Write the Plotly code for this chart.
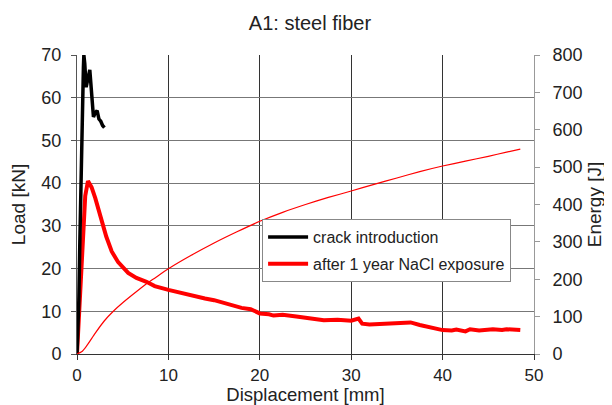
import plotly.graph_objects as go

# crack introduction (black)
crack_x = [0.0, 0.1, 0.2, 0.3, 0.4, 0.5, 0.6, 0.7, 0.75, 0.85, 1.0, 1.1, 1.25, 1.4, 1.5, 1.6, 1.7, 1.8, 2.0, 2.2, 2.4, 2.6, 2.8, 3.0]
crack_y = [0.0, 5.0, 12.5, 25.0, 38.0, 50.0, 60.0, 67.0, 70.0, 68.0, 62.5, 64.0, 65.0, 66.5, 64.0, 60.0, 57.0, 55.5, 56.5, 57.0, 55.0, 54.5, 53.5, 53.0]

# after 1 year NaCl exposure (red, load)
nacl_x = [0.0, 0.3, 0.6, 0.9, 1.2, 1.6, 2.0, 2.7, 3.2, 3.8, 4.5, 5.6, 6.5, 7.6, 8.5, 10.0, 11.0, 11.5, 12.5, 13.0, 14.0, 15.0, 16.0, 16.5, 17.5, 18.0, 19.0, 20.0, 21.0, 21.5, 22.5, 23.0, 24.0, 25.0, 26.0, 27.0, 28.5, 30.0, 30.8, 31.2, 32.0, 33.0, 34.0, 35.5, 36.5, 37.5, 38.5, 40.0, 41.0, 41.5, 42.5, 43.0, 44.0, 45.5, 46.5, 47.0, 48.5]
nacl_y = [0.0, 14.0, 28.0, 37.0, 40.5, 39.0, 36.5, 31.0, 27.5, 24.0, 21.5, 19.0, 17.8, 16.9, 15.9, 15.0, 14.5, 14.1, 13.6, 13.4, 13.0, 12.6, 12.0, 11.6, 11.0, 10.8, 10.5, 9.5, 9.3, 9.0, 9.2, 9.0, 8.8, 8.5, 8.2, 7.9, 8.0, 7.8, 8.3, 7.1, 6.9, 7.0, 7.2, 7.3, 7.4, 6.8, 6.3, 5.6, 5.5, 5.7, 5.3, 5.8, 5.5, 5.8, 5.6, 5.8, 5.6]

# energy (thin red, right axis)
energy_x = [0.0, 0.5, 1.0, 2.0, 3.0, 4.0, 5.0, 6.0, 7.6, 8.5, 10.0, 12.5, 15.0, 17.5, 20.0, 22.5, 25.0, 27.5, 30.0, 32.5, 35.0, 37.5, 40.0, 42.5, 45.0, 47.0, 48.5]
energy_y = [0.0, 6.0, 20.0, 56.0, 89.0, 115.0, 137.0, 157.0, 188.0, 203.0, 228.0, 264.0, 297.0, 327.0, 355.0, 379.0, 400.0, 419.0, 436.0, 454.0, 471.0, 488.0, 503.0, 516.0, 529.0, 540.0, 548.0]

title = "A1: steel fiber"
x_title = "Displacement [mm]"
y_title = "Load [kN]"
y2_title = "Energy [J]"

font = "Liberation Sans, Arial, sans-serif"

W, H = 604, 397  # page body has an 8px margin

fig = go.Figure()
fig.add_trace(go.Scatter(x=energy_x, y=energy_y, yaxis="y2", mode="lines",
                         line=dict(color="#ff0000", width=1.2, shape="spline", smoothing=0.6),
                         showlegend=False))
fig.add_trace(go.Scatter(x=nacl_x, y=nacl_y, mode="lines", name="after 1 year NaCl exposure",
                         legendgroup="b", legendrank=2,
                         line=dict(color="#ff0000", width=4)))
fig.add_trace(go.Scatter(x=crack_x, y=crack_y, mode="lines", name="crack introduction",
                         legendgroup="a", legendrank=1,
                         line=dict(color="#000000", width=3.5)))

fig.update_layout(
    width=W, height=H,
    margin=dict(l=69, r=78, t=47, b=51),
    paper_bgcolor="white", plot_bgcolor="white",
    font=dict(family=font, size=18, color="#222"),
    title=dict(text=title, x=0.5, xanchor="center", y=1 - 15 / H, yanchor="middle",
               font=dict(size=20, color="#222", family=font)),
    xaxis=dict(range=[0, 50], dtick=10, showgrid=True, gridcolor="#333", gridwidth=1,
               showline=True, linecolor="#333", ticks="outside", ticklen=5, tickcolor="#333",
               automargin=False, zeroline=False, ticklabelstandoff=1,
               tickfont=dict(size=17),
               title=dict(text=x_title, standoff=0, font=dict(size=18.5))),
    yaxis=dict(range=[0, 70], dtick=10, showgrid=True, gridcolor="#777", gridwidth=1,
               showline=True, linecolor="#555", ticks="outside", ticklen=5, tickcolor="#555",
               automargin=False, zeroline=False, ticklabelstandoff=6,
               tickfont=dict(size=18),
               title=dict(text=y_title, standoff=13, font=dict(size=19))),
    yaxis2=dict(range=[0, 800], dtick=100, overlaying="y", side="right", showgrid=False,
                showline=True, linecolor="#999", ticks="outside", ticklen=5, tickcolor="#999",
                automargin=False, zeroline=False, ticklabelstandoff=9,
                tickfont=dict(size=18),
                title=dict(text=y2_title, standoff=6, font=dict(size=19))),
    legend=dict(x=0.405, y=0.451, xanchor="left", yanchor="top",
                bgcolor="white", bordercolor="#888", borderwidth=1,
                font=dict(size=16, color="#222"), traceorder="grouped",
                itemwidth=40, tracegroupgap=3),
)

fig.write_html("out.html")
